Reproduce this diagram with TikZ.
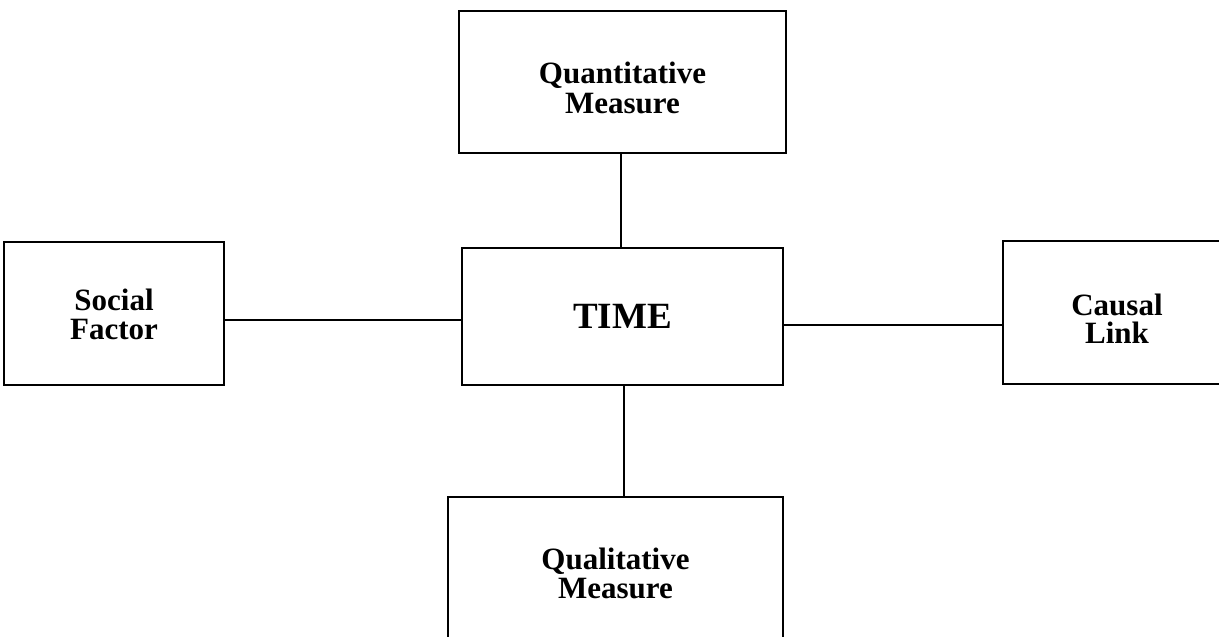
\documentclass[tikz,border=0pt]{standalone}
\usepackage{fontspec}
\setmainfont{Liberation Serif}
\begin{document}
\begin{tikzpicture}[x=1pt,y=-1pt,
  box/.style={draw=black,line width=2.6pt,inner sep=0pt},
  caption/.style={align=center,inner sep=0pt,
    font=\bfseries\fontsize{31}{28}\selectfont},
  link/.style={draw=black,line width=2.2pt}]
\useasboundingbox (0,0) rectangle (1219,637);
\clip (0,0) rectangle (1219,637);
% central concept
\node[box,minimum width=321pt,minimum height=137pt,
  font=\bfseries\fontsize{37}{37}\selectfont] (tm) at (622.5,316.5) {TIME};
% the four boxes around it
\node[box,minimum width=327pt,minimum height=142pt] (top) at (622.5,82) {};
\node[box,minimum width=220pt,minimum height=143pt] (soc) at (114,313.5) {};
\node[box,minimum width=228pt,minimum height=143pt] (cau) at (1117,312.5) {};
\node[box,minimum width=335pt,minimum height=142pt] (bot) at (615.5,568) {};
% their captions
\node[caption] (topt) at ([yshift=-5.5pt]top.center) {Quantitative\\[2pt]Measure};
\node[caption] (soct) at ([yshift=-1pt]soc.center) {Social\\[0.5pt]Factor};
\node[caption] (caut) at ([yshift=-6pt]cau.center) {Causal\\[0pt]Link};
\node[caption] (bott) at ([yshift=-5pt]bot.center) {Qualitative\\[1pt]Measure};
% connectors
\draw[link] ([xshift=-1.5pt]top.south) -- ([xshift=-1.5pt]top.south |- tm.north);
\draw[link] ([xshift=1.5pt]tm.south) -- ([xshift=1.5pt]tm.south |- bot.north);
\draw[link] ([yshift=-3.5pt]tm.west) -- ([yshift=-3.5pt]tm.west -| soc.east);
\draw[link] ([yshift=-8.5pt]tm.east) -- ([yshift=-8.5pt]tm.east -| cau.west);
\end{tikzpicture}
\end{document}
